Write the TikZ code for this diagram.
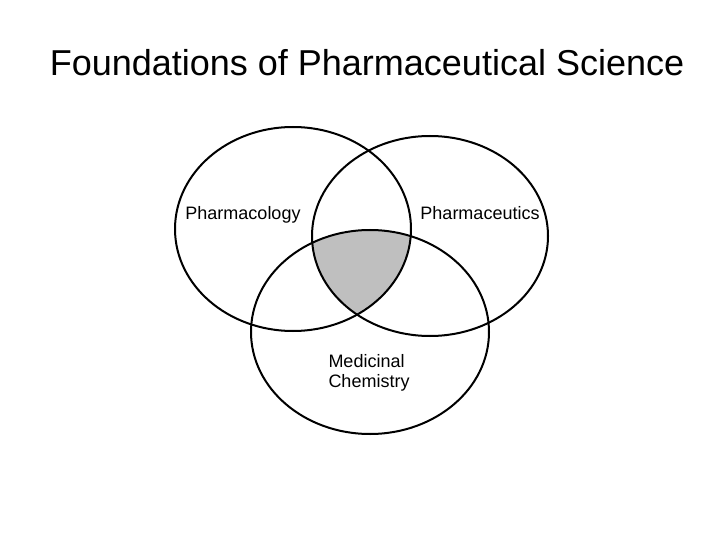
\documentclass[tikz,border=0pt]{standalone}
\usepackage{fontspec}
\setmainfont{Liberation Sans}
\usetikzlibrary{positioning}

\begin{document}
\begin{tikzpicture}[x=1pt,y=-1pt,
   setline/.style={draw,line width=2pt},
   setlabel/.style={font=\fontsize{18}{20}\selectfont,align=left}]
\useasboundingbox (0,0) rectangle (720,540);
\node (title) at (367,63) {\fontsize{36}{40}\selectfont Foundations of Pharmaceutical Science};
% common region of all three sets
\begin{scope}
   \clip (293,229) ellipse [x radius=118,y radius=102];
   \clip (430,236) ellipse [x radius=118,y radius=100];
   \fill[black!25] (370,332) ellipse [x radius=119,y radius=102];
\end{scope}
\draw[setline] (293,229) ellipse [x radius=118,y radius=102];
\draw[setline] (430,236) ellipse [x radius=118,y radius=100];
\draw[setline] (370,332) ellipse [x radius=119,y radius=102];
\node[setlabel] (pharmacology) at (243,215) {Pharmacology};
\node[setlabel] (pharmaceutics) at (480,213) {Pharmaceutics};
\node[setlabel] (medchem) at (369,373) {Medicinal\\Chemistry};
\end{tikzpicture}
\end{document}
